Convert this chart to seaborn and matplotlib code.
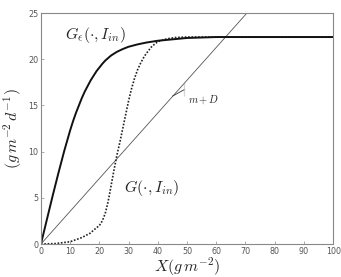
import matplotlib
matplotlib.use("Agg")
import matplotlib.pyplot as plt
import seaborn as sns
import pandas as pd

# G_eps curve (solid)
x_eps = [0, 2, 4, 6, 8, 10, 11, 12, 13, 14, 15, 16, 17, 18, 19, 20, 21, 22, 24, 26, 28, 30, 33, 36, 40, 45, 50, 55, 60, 70, 80, 90, 100]
y_eps = [0, 2.6, 5.2, 7.7, 10.1, 12.3, 13.3, 14.2, 15.0, 15.8, 16.5, 17.1, 17.7, 18.2, 18.7, 19.1, 19.5, 19.85, 20.4, 20.8, 21.1, 21.35, 21.6, 21.8, 22.0, 22.15, 22.3, 22.35, 22.4, 22.4, 22.4, 22.4, 22.4]

# G curve (dotted sigmoid)
x_g = [0, 5, 10, 14, 17, 18, 20, 21, 22, 23, 24, 25, 26, 27, 28, 29, 30, 31, 32, 33, 34, 35, 36, 38, 40, 43, 46, 50, 60, 70, 80, 90, 100]
y_g = [0, 0.05, 0.25, 0.7, 1.2, 1.5, 2.0, 2.5, 3.3, 4.6, 6.3, 8.0, 9.6, 11.0, 12.5, 14.0, 15.5, 16.8, 17.9, 18.8, 19.5, 20.1, 20.6, 21.4, 21.9, 22.2, 22.35, 22.4, 22.4, 22.4, 22.4, 22.4, 22.4]

# loss line (m + D) X
x_line = [0, 70.5]
y_line = [0, 25]

# slope marker triangle
x_tri = [45, 49, 49]
y_tri = [16.0, 16.0, 17.4]

x_ticks = [0, 10, 20, 30, 40, 50, 60, 70, 80, 90, 100]
y_ticks = [0, 5, 10, 15, 20, 25]

sns.set_theme(style="white")
plt.rcParams["mathtext.fontset"] = "cm"
plt.rcParams["font.family"] = ["DejaVu Sans"]

fig = plt.figure(figsize=(3.41, 2.77), dpi=100)
ax = fig.add_axes([0.120, 0.119, 0.857, 0.834])

df_eps = pd.DataFrame({"x": x_eps, "y": y_eps})
df_g = pd.DataFrame({"x": x_g, "y": y_g})
df_line = pd.DataFrame({"x": x_line, "y": y_line})
df_tri = pd.DataFrame({"x": x_tri, "y": y_tri})

sns.lineplot(data=df_line, x="x", y="y", ax=ax, color="#555555", lw=0.6, sort=False)
sns.lineplot(data=df_g, x="x", y="y", ax=ax, color="#222222", lw=1.2, linestyle=(0, (1, 1)), sort=False)
sns.lineplot(data=df_eps, x="x", y="y", ax=ax, color="#111111", lw=1.4, sort=False)
sns.lineplot(data=df_tri, x="x", y="y", ax=ax, color="#333333", lw=0.6, sort=False)

ax.set_xlim(0, 100)
ax.set_ylim(0, 25)
ax.set_xticks(x_ticks)
ax.set_yticks(y_ticks)
ax.tick_params(direction="in", length=2.5, width=0.5, colors="#888888", labelsize=5.8,
               labelcolor="#555555", pad=2, bottom=True, left=True)
for s in ax.spines.values():
    s.set_color("#888888")
    s.set_linewidth(0.8)

ax.set_xlabel(r"$X(g\,m^{-2})$", fontsize=11.5, labelpad=0)
ax.set_ylabel(r"$(g\,m^{-2}\,d^{-1})$", fontsize=11.5, labelpad=3)

ax.text(18.7, 22.6, r"$G_\epsilon(\cdot,I_{in})$", fontsize=11.5, ha="center", va="center")
ax.text(38, 6.1, r"$G(\cdot,I_{in})$", fontsize=11.5, ha="center", va="center")
ax.text(55.8, 15.6, r"$m+D$", fontsize=7.5, ha="center", va="center")

fig.savefig("out.png", dpi=100)
